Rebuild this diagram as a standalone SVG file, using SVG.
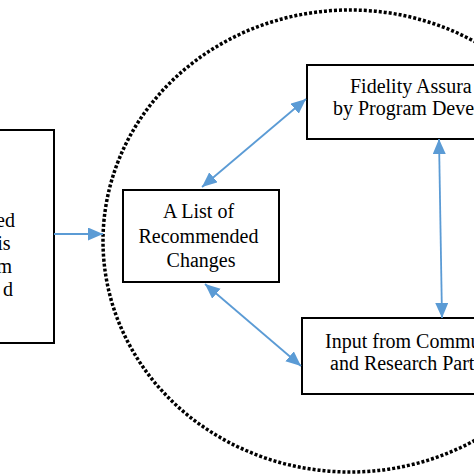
<svg xmlns="http://www.w3.org/2000/svg" width="474" height="474" viewBox="0 0 474 474">
  <style>
    .box { fill: #ffffff; stroke: #000000; stroke-width: 2; }
    .lbl { font-family: "Liberation Serif", "Times New Roman", serif; font-size: 20px; fill: #000000; }
    .conn { stroke: #5b9bd5; stroke-width: 1.8; fill: none; }
  </style>
  <defs>
    <marker id="ah" markerUnits="userSpaceOnUse" markerWidth="16" markerHeight="14" refX="15" refY="6.5" orient="auto-start-reverse">
      <path d="M0,0 L15,6.5 L0,13 z" fill="#5b9bd5"/>
    </marker>
  </defs>
  <rect width="474" height="474" fill="#ffffff"/>
  <ellipse id="boundary" cx="350" cy="241" rx="247" ry="231" fill="none" stroke="#000000" stroke-width="3.5" stroke-dasharray="3 2"/>
  <g id="left-box">
    <rect class="box" x="-10" y="130" width="64" height="213"/>
    <text class="lbl" text-anchor="end">
      <tspan x="20" y="227">ed</tspan>
      <tspan x="15.5" y="250">is</tspan>
      <tspan x="17" y="273">m</tspan>
      <tspan x="13" y="296">d</tspan>
    </text>
  </g>
  <g id="recommended-changes">
    <rect class="box" x="123" y="190" width="156" height="92"/>
    <text class="lbl" text-anchor="middle">
      <tspan x="201" y="218">A List of</tspan>
      <tspan x="201" y="243">Recommended</tspan>
      <tspan x="201" y="267">Changes</tspan>
    </text>
  </g>
  <g id="fidelity">
    <rect class="box" x="307" y="65" width="180" height="74"/>
    <text class="lbl">
      <tspan x="350" y="93">Fidelity Assura</tspan>
      <tspan x="333" y="115">by Program Deve</tspan>
    </text>
  </g>
  <g id="input">
    <rect class="box" x="302" y="318" width="185" height="76"/>
    <text class="lbl">
      <tspan x="325" y="348">Input from Commu</tspan>
      <tspan x="330" y="370">and Research Part</tspan>
    </text>
  </g>
  <g id="connectors">
    <line class="conn" x1="54" y1="234" x2="103" y2="234" marker-end="url(#ah)"/>
    <line class="conn" x1="202" y1="187" x2="306" y2="99" marker-start="url(#ah)" marker-end="url(#ah)"/>
    <line class="conn" x1="439" y1="139" x2="442" y2="318" marker-start="url(#ah)" marker-end="url(#ah)"/>
    <line class="conn" x1="205" y1="284" x2="301" y2="366" marker-start="url(#ah)" marker-end="url(#ah)"/>
  </g>
</svg>
